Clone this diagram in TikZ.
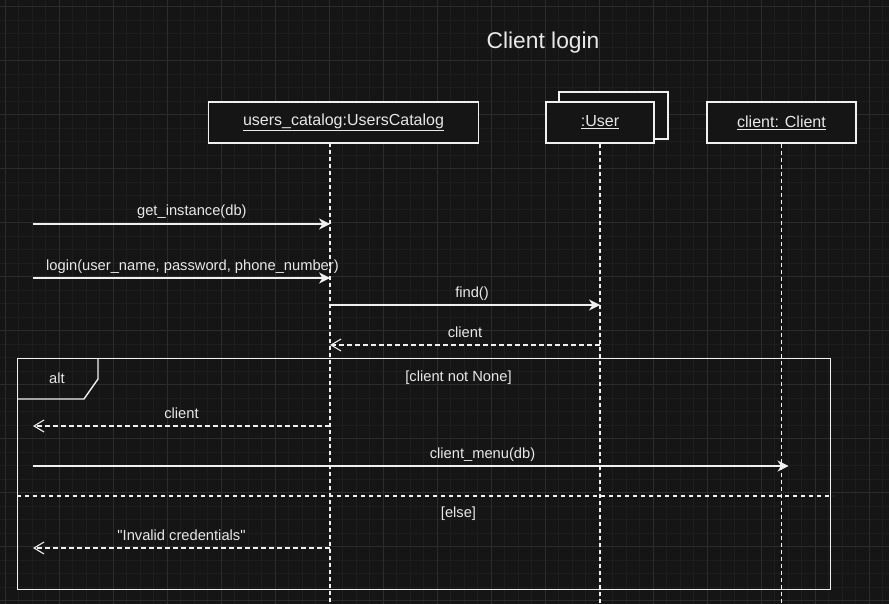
\documentclass[tikz,border=0pt]{standalone}
\usepackage{fontspec}
\setmainfont{Liberation Sans}[Ligatures=TeXOff]
\usetikzlibrary{arrows.meta, calc}
\definecolor{bgcol}{RGB}{21, 21, 21}
\definecolor{minorcol}{RGB}{29, 29, 29}
\definecolor{majorcol}{RGB}{44, 44, 44}
\definecolor{linecol}{RGB}{240, 240, 240}
\definecolor{txtcol}{RGB}{232, 232, 232}
\tikzset{
  obj/.style={draw=linecol, fill=bgcol, line width=1.3pt, minimum height=41pt,
              text=txtcol, font=\fontsize{16}{19}\selectfont, inner sep=0pt},
  life/.style={draw=linecol, line width=1.1pt, dash pattern=on 4pt off 3pt},
  msg/.style={draw=linecol, line width=1.4pt,
              -{Stealth[length=11pt, width=11pt, inset=3.5pt]}},
  reply/.style={draw=linecol, line width=1.1pt, dash pattern=on 5pt off 3pt,
                -{Straight Barb[length=10pt, width=12pt]}},
  txt/.style={text=txtcol, font=\fontsize{14.7}{17}\selectfont, inner sep=0pt},
  lbl/.style={txt, anchor=base, yshift=8pt},
  frame/.style={draw=linecol, line width=1.4pt},
  sep/.style={draw=linecol, line width=1.1pt, dash pattern=on 4pt off 4pt},
}

\begin{document}
\begin{tikzpicture}[x=1pt, y=-1pt]
  % background and grid
  \fill[bgcol] (0,0) rectangle (889,604);
  \useasboundingbox (0,0) rectangle (889,604);
  \foreach \k in {0,...,65}
    \draw[minorcol, line width=0.8pt] ({5.3+13.5*\k},0) -- ({5.3+13.5*\k},604);
  \foreach \k in {0,...,44}
    \draw[minorcol, line width=0.8pt] (0,{6.7+13.5*\k}) -- (889,{6.7+13.5*\k});
  \foreach \k in {0,...,16}
    \draw[majorcol, line width=1pt] ({5.3+54*\k},0) -- ({5.3+54*\k},604);
  \foreach \k in {0,...,11}
    \draw[majorcol, line width=1pt] (0,{6.7+54*\k}) -- (889,{6.7+54*\k});

  \node[text=txtcol, font=\fontsize{22.8}{27}\selectfont, anchor=base] (title)
    at (543,49) {Client login};

  % lifeline heads
  \node[obj, minimum width=270pt] (uc) at (343.5,122.5) {\underline{users\_catalog:UsersCatalog}};
  \node[obj, minimum width=109pt, minimum height=47pt] (usrback) at (613.5,115.5) {};
  \node[obj, minimum width=108pt] (usr) at (600,122.5) {\underline{:User}};
  \node[obj, minimum width=149pt] (cli) at (781.5,122.5) {\underline{client: Client}};

  \coordinate (ucL) at (330,143);
  \coordinate (bot) at (0,604);
  \draw[life] (ucL) -- (ucL |- bot);
  \draw[life] (usr.south) -- (usr.south |- bot);
  \draw[life] (cli.south) -- (cli.south |- bot);

  % alt fragment
  \node[frame, anchor=north west, minimum width=813pt, minimum height=231pt,
        inner sep=0pt] (alt) at (17,358) {};
  \draw[frame] ([xshift=81pt]alt.north west) -- ++(0,21) -- ++(-14,20) -- ++(-67,0);
  \node[txt] (alttag) at (57,378) {alt};
  \node[txt] (guard1) at (458.5,378) {[client not None]};
  \coordinate (elseL) at (17,496);
  \draw[sep] (elseL) -- ++(816,0);
  \node[txt] (guard2) at (458.5,514) {[else]};

  % messages
  \coordinate (m1) at (33,224);
  \coordinate (m2) at (33,278);
  \coordinate (m3) at (330,305);
  \coordinate (r1) at (330,345);
  \coordinate (r2) at (33,426);
  \coordinate (m4) at (33,466);
  \coordinate (r3) at (33,548);

  \draw[msg] (m1) -- (m1 -| ucL) node[lbl, pos=0.535] {get\_instance(db)};
  \draw[msg] (m2) -- (m2 -| ucL) node[lbl, pos=0.537] {login(user\_name, password, phone\_number)};
  \draw[msg] (m3) -- (m3 -| usr.south) node[lbl, pos=0.526] {find()};
  \draw[reply] (r1 -| usr.south) -- (r1) node[lbl, pos=0.5] {client};
  \draw[reply] (r2 -| ucL) -- (r2) node[lbl, pos=0.5] {client};
  \draw[msg] (m4) -- ($(m4 -| cli.south)+(7,0)$) node[lbl, pos=0.595] {client\_menu(db)};
  \draw[reply] (r3 -| ucL) -- (r3) node[lbl, pos=0.5] {"Invalid credentials"};
\end{tikzpicture}
\end{document}
